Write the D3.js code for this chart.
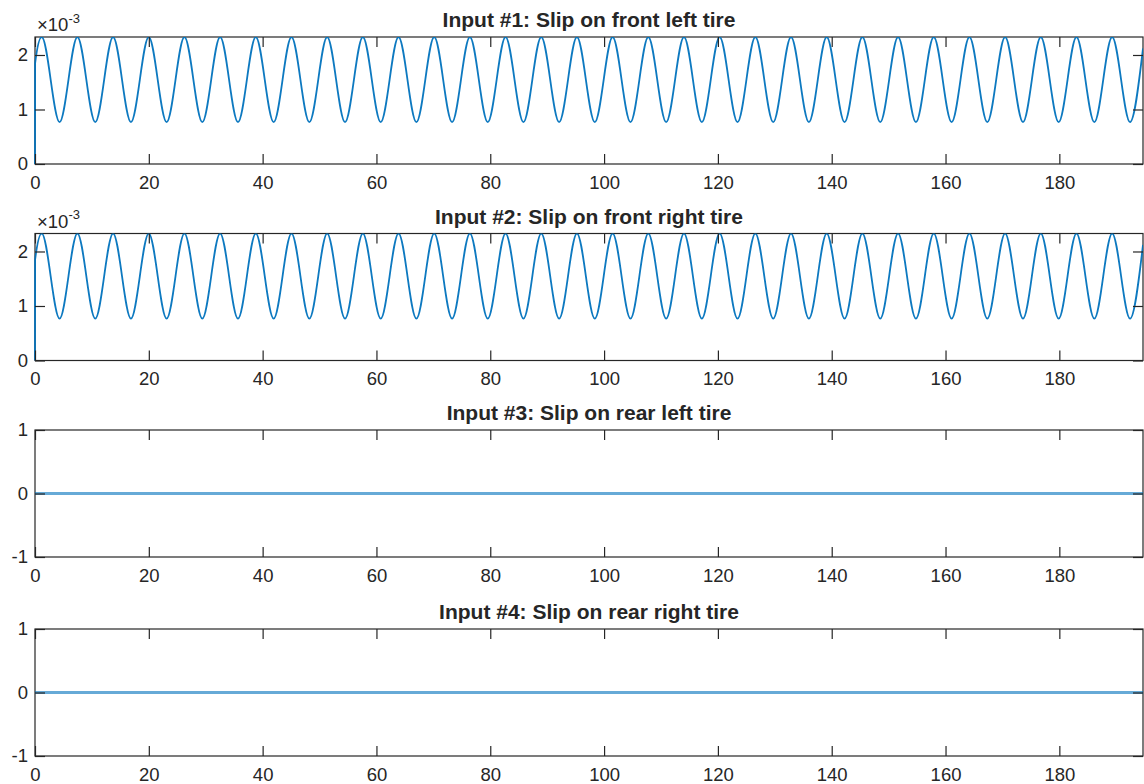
<!DOCTYPE html>
<html>
<head>
<meta charset="utf-8">
<script src="https://cdn.jsdelivr.net/npm/d3@7"></script>
<style>
  body { margin: 0; background: #fff; }
  svg { display: block; font-family: "Liberation Sans", Arial, Helvetica, sans-serif; }
  .tick text { fill: #262626; font-size: 18.5px; }
  .tick line { stroke: #262626; stroke-width: 1.2; }
</style>
</head>
<body>
<script>
// Panel titles
const titles = [
    "Input #1: Slip on front left tire",
    "Input #2: Slip on front right tire",
    "Input #3: Slip on rear left tire",
    "Input #4: Slip on rear right tire"
];

// Time samples for the front tires (start, then peaks / troughs)
const frontTime = [0, 0.02, 1.18, 4.32, 7.45, 10.59, 13.72, 16.86, 19.99, 23.13, 26.26, 29.40,
    32.53, 35.67, 38.80, 41.94, 45.07, 48.21, 51.34, 54.48, 57.61, 60.75, 63.88, 67.02,
    70.15, 73.29, 76.42, 79.56, 82.69, 85.83, 88.96, 92.10, 95.23, 98.37, 101.50, 104.64,
    107.77, 110.91, 114.04, 117.18, 120.31, 123.45, 126.58, 129.72, 132.85, 135.99, 139.12,
    142.26, 145.39, 148.53, 151.66, 154.80, 157.93, 161.07, 164.20, 167.34, 170.47, 173.61,
    176.74, 179.88, 183.01, 186.15, 189.28, 192.42, 194.7];

const slipFrontLeft = [0, 1.85e-3,
    2.33e-3, 0.77e-3, 2.33e-3, 0.77e-3, 2.33e-3, 0.77e-3, 2.33e-3, 0.77e-3, 2.33e-3, 0.77e-3,
    2.33e-3, 0.77e-3, 2.33e-3, 0.77e-3, 2.33e-3, 0.77e-3, 2.33e-3, 0.77e-3, 2.33e-3, 0.77e-3,
    2.33e-3, 0.77e-3, 2.33e-3, 0.77e-3, 2.33e-3, 0.77e-3, 2.33e-3, 0.77e-3, 2.33e-3, 0.77e-3,
    2.33e-3, 0.77e-3, 2.33e-3, 0.77e-3, 2.33e-3, 0.77e-3, 2.33e-3, 0.77e-3, 2.33e-3, 0.77e-3,
    2.33e-3, 0.77e-3, 2.33e-3, 0.77e-3, 2.33e-3, 0.77e-3, 2.33e-3, 0.77e-3, 2.33e-3, 0.77e-3,
    2.33e-3, 0.77e-3, 2.33e-3, 0.77e-3, 2.33e-3, 0.77e-3, 2.33e-3, 0.77e-3, 2.33e-3, 0.77e-3,
    2.33e-3, 0.77e-3, 2.12e-3];

const slipFrontRight = [0, 1.85e-3,
    2.33e-3, 0.77e-3, 2.33e-3, 0.77e-3, 2.33e-3, 0.77e-3, 2.33e-3, 0.77e-3, 2.33e-3, 0.77e-3,
    2.33e-3, 0.77e-3, 2.33e-3, 0.77e-3, 2.33e-3, 0.77e-3, 2.33e-3, 0.77e-3, 2.33e-3, 0.77e-3,
    2.33e-3, 0.77e-3, 2.33e-3, 0.77e-3, 2.33e-3, 0.77e-3, 2.33e-3, 0.77e-3, 2.33e-3, 0.77e-3,
    2.33e-3, 0.77e-3, 2.33e-3, 0.77e-3, 2.33e-3, 0.77e-3, 2.33e-3, 0.77e-3, 2.33e-3, 0.77e-3,
    2.33e-3, 0.77e-3, 2.33e-3, 0.77e-3, 2.33e-3, 0.77e-3, 2.33e-3, 0.77e-3, 2.33e-3, 0.77e-3,
    2.33e-3, 0.77e-3, 2.33e-3, 0.77e-3, 2.33e-3, 0.77e-3, 2.33e-3, 0.77e-3, 2.33e-3, 0.77e-3,
    2.33e-3, 0.77e-3, 2.12e-3];

// Rear tires stay at zero
const rearTime = [0, 194.7];
const slipRearLeft = [0, 0];
const slipRearRight = [0, 0];

// Axis ticks
const xTicks = [0, 20, 40, 60, 80, 100, 120, 140, 160, 180];
const frontYTicks = [0, 1e-3, 2e-3];
const rearYTicks = [-1, 0, 1];

const panels = [
    { title: titles[0], t: frontTime, v: slipFrontLeft, yDomain: [0, 2.33e-3], yTicks: frontYTicks, exp: true },
    { title: titles[1], t: frontTime, v: slipFrontRight, yDomain: [0, 2.33e-3], yTicks: frontYTicks, exp: true },
    { title: titles[2], t: rearTime, v: slipRearLeft, yDomain: [-1, 1], yTicks: rearYTicks, exp: false },
    { title: titles[3], t: rearTime, v: slipRearRight, yDomain: [-1, 1], yTicks: rearYTicks, exp: false }
];

const width = 1144;
const height = 784;
const left = 35, right = 1143;
const tops = [37, 233.5, 430, 629];
const panelHeight = 127;
const tickLen = 10;
const ink = "#262626";

const svg = d3.select("body").append("svg")
    .attr("width", width)
    .attr("height", height);

const x = d3.scaleLinear().domain([0, 194.7]).range([0, right - left]);

panels.forEach((p, i) => {
    const g = svg.append("g")
        .attr("transform", `translate(${left},${tops[i]})`);

    const y = d3.scaleLinear().domain(p.yDomain).range([panelHeight, 0]);

    g.append("clipPath")
        .attr("id", `clip${i}`)
        .append("rect")
        .attr("x", -1).attr("y", 0)
        .attr("width", right - left + 1)
        .attr("height", panelHeight);

    // Box
    g.append("rect")
        .attr("width", right - left)
        .attr("height", panelHeight)
        .attr("fill", "none")
        .attr("stroke", ink)
        .attr("stroke-width", 1.2);

    // Data line
    const pts = p.t.map((t, k) => [t, p.v[k]]);
    const line = d3.line()
        .x(d => x(d[0]))
        .y(d => y(d[1]))
        .curve(d3.curveMonotoneX);

    g.append("path")
        .datum(pts)
        .attr("clip-path", `url(#clip${i})`)
        .attr("d", line)
        .attr("fill", "none")
        .attr("stroke", "#0072BD")
        .attr("stroke-opacity", p.exp ? 0.95 : 0.6)
        .attr("stroke-width", p.exp ? 1.8 : 3);

    // Axes: ticks point inward on all four sides
    const fmtY = p.exp ? (d => String(Math.round(d * 1000))) : (d => String(d));

    g.append("g")
        .attr("transform", `translate(0,${panelHeight})`)
        .call(d3.axisBottom(x).tickValues(xTicks).tickSize(-tickLen).tickPadding(11.5))
        .call(a => a.select(".domain").remove());

    g.append("g")
        .call(d3.axisTop(x).tickValues(xTicks).tickSize(-tickLen).tickFormat(""))
        .call(a => a.select(".domain").remove());

    g.append("g")
        .call(d3.axisLeft(y).tickValues(p.yTicks).tickSize(-tickLen).tickPadding(7).tickFormat(fmtY))
        .call(a => a.select(".domain").remove());

    g.append("g")
        .attr("transform", `translate(${right - left},0)`)
        .call(d3.axisRight(y).tickValues(p.yTicks).tickSize(-tickLen).tickFormat(""))
        .call(a => a.select(".domain").remove());

    // Title
    g.append("text")
        .attr("x", (right - left) / 2)
        .attr("y", -9.7)
        .attr("text-anchor", "middle")
        .attr("font-weight", "bold")
        .attr("font-size", "21px")
        .attr("fill", ink)
        .text(p.title);

    // Exponent label
    if (p.exp) {
        const ex = g.append("text")
            .attr("x", 2)
            .attr("y", -6)
            .attr("font-size", "18.5px")
            .attr("fill", ink);
        ex.append("tspan").text("\u00d710");
        ex.append("tspan")
            .attr("font-size", "13px")
            .attr("dy", -8.3)
            .text("-3");
    }
});
</script>
</body>
</html>
